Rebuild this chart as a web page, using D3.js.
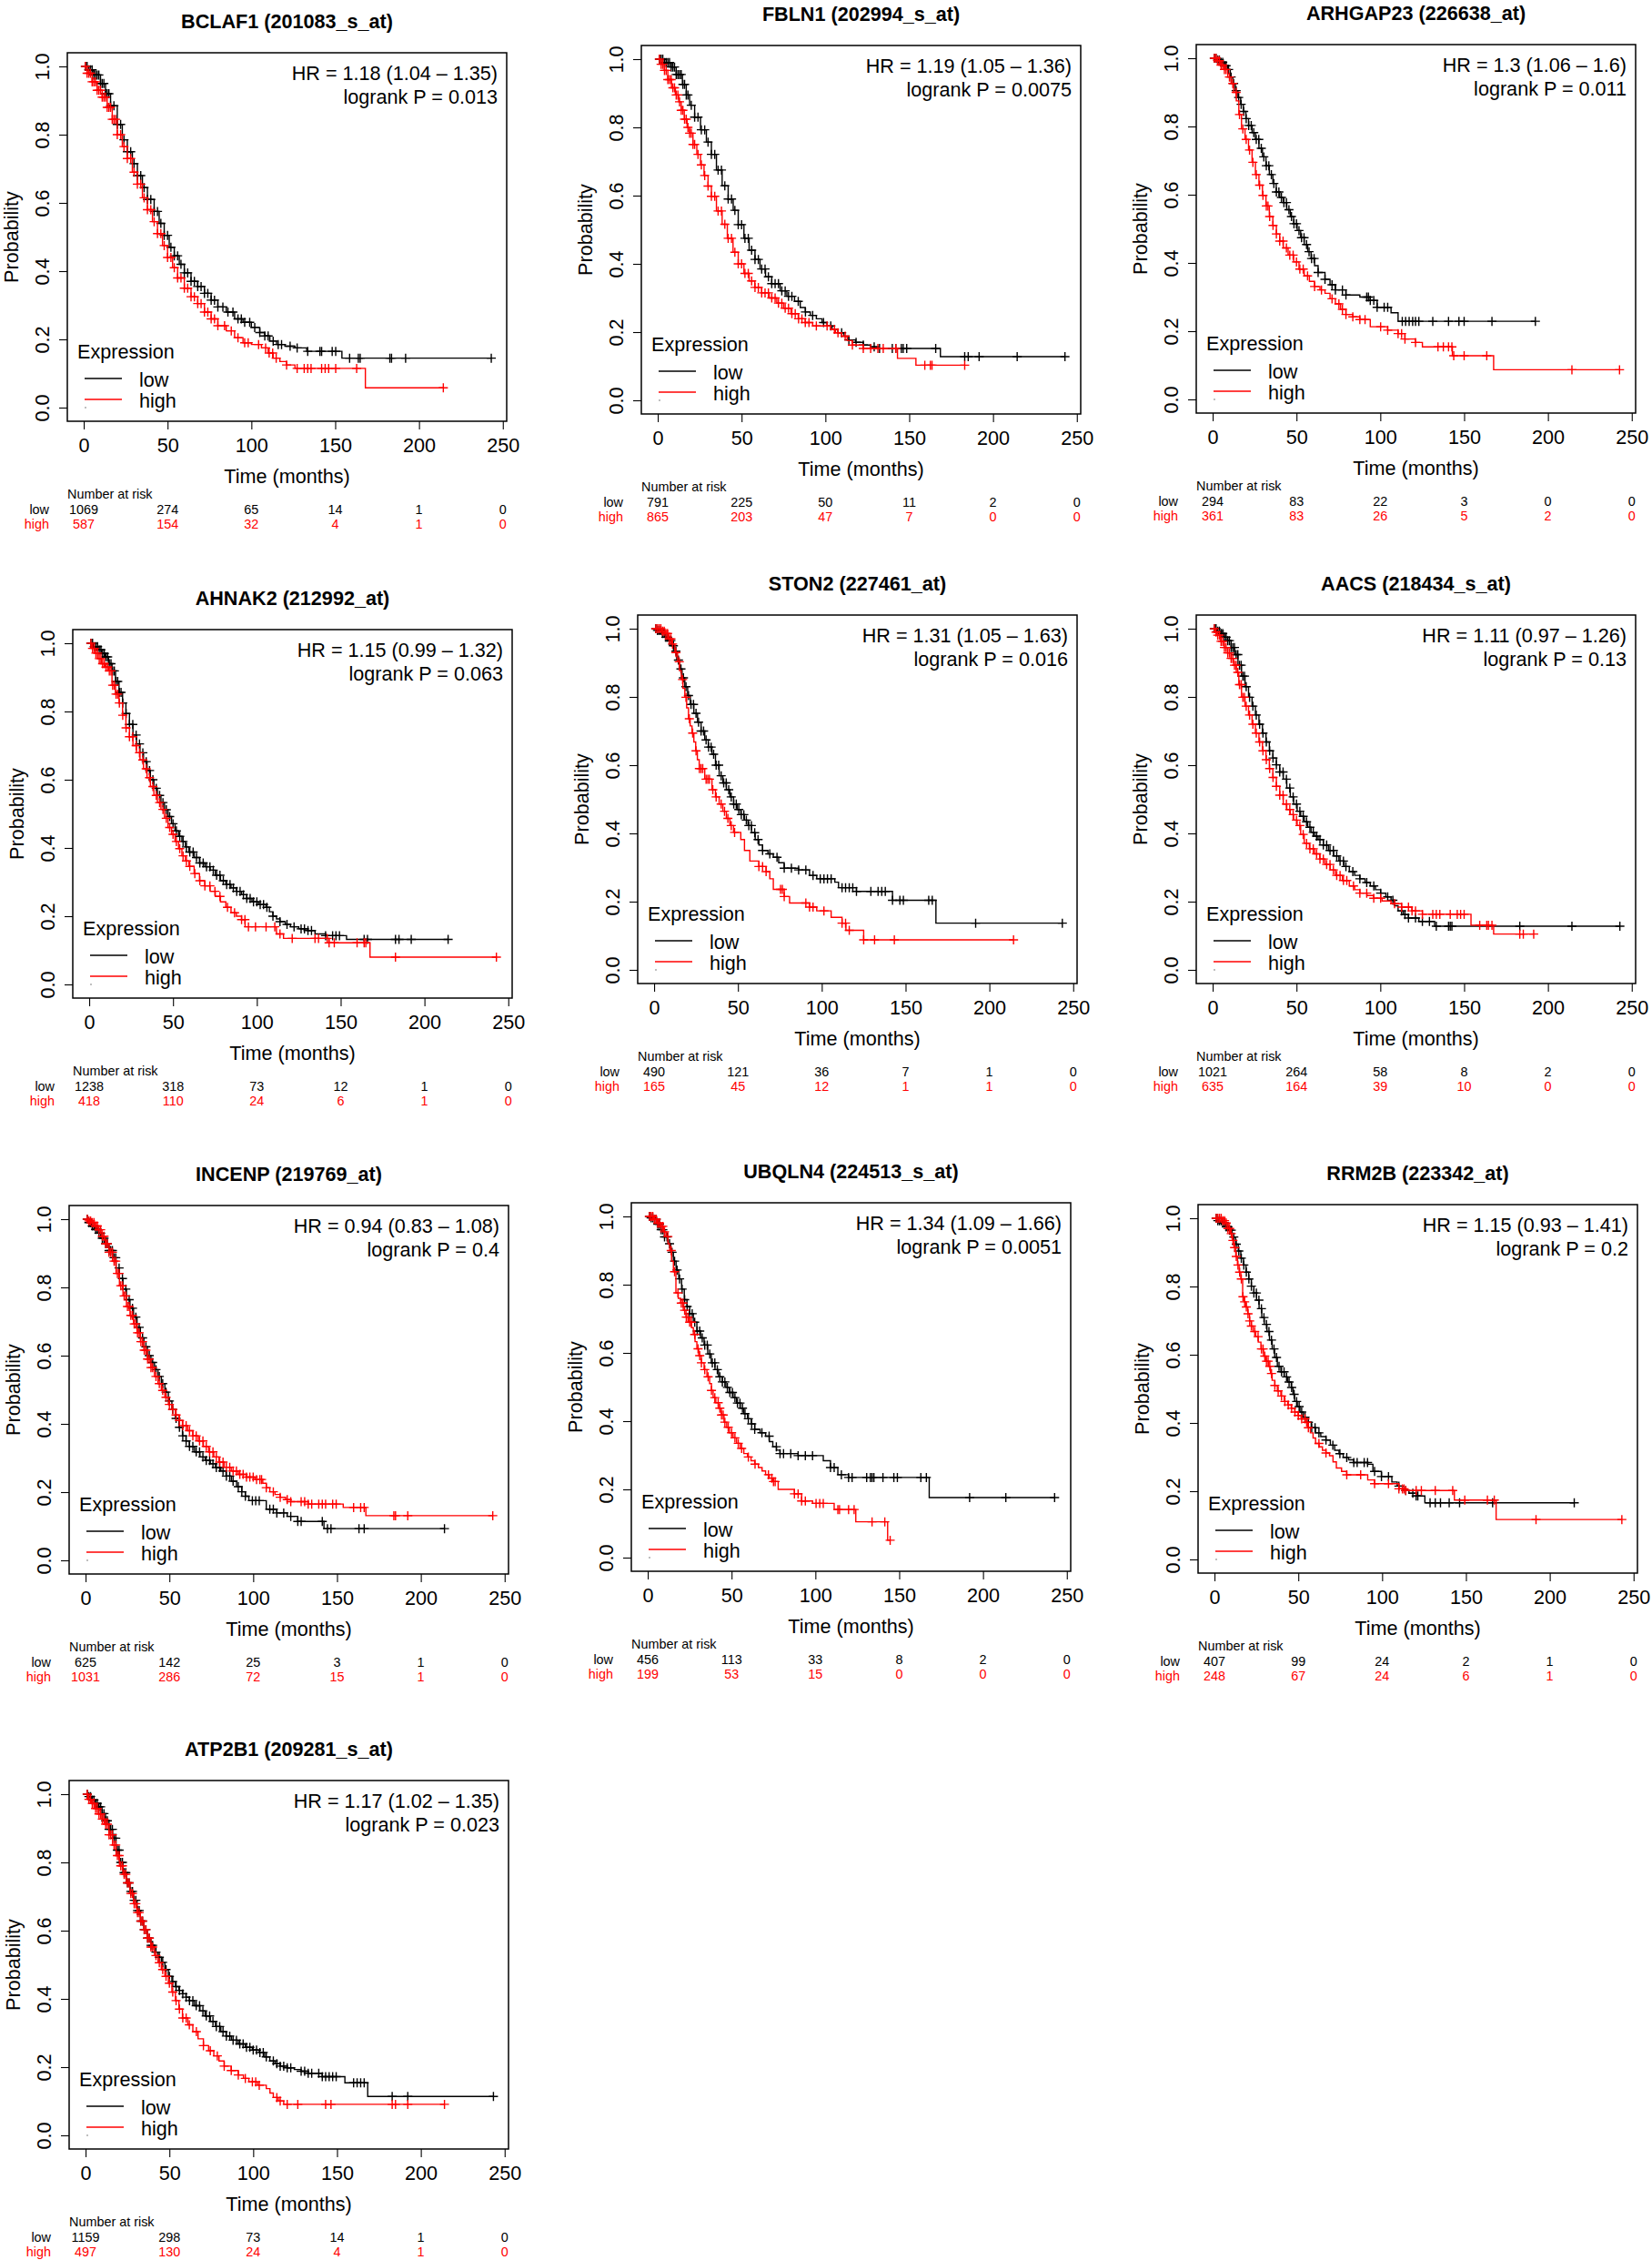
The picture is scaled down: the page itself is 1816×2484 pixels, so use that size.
<!DOCTYPE html>
<html><head><meta charset="utf-8">
<script src="https://cdn.jsdelivr.net/npm/d3@7"></script>
<style>
body{margin:0;background:#fff}
svg{display:block}
text{font-family:"Liberation Sans",Arial,Helvetica,sans-serif;fill:#000}
</style>
</head><body>
<svg id="chart" width="1816" height="2484"></svg>
<script>
// ---------- shared tick labels ----------
const xTickValues = [0, 50, 100, 150, 200, 250];
const yTickValues = [0, 0.2, 0.4, 0.6, 0.8, 1.0];
const groups = ["low", "high"];

// ---------- titles / statistics ----------
const titles = ["BCLAF1 (201083_s_at)", "FBLN1 (202994_s_at)", "ARHGAP23 (226638_at)",
  "AHNAK2 (212992_at)", "STON2 (227461_at)", "AACS (218434_s_at)",
  "INCENP (219769_at)", "UBQLN4 (224513_s_at)", "RRM2B (223342_at)", "ATP2B1 (209281_s_at)"];
const hrTexts = ["HR = 1.18 (1.04 – 1.35)", "HR = 1.19 (1.05 – 1.36)", "HR = 1.3 (1.06 – 1.6)",
  "HR = 1.15 (0.99 – 1.32)", "HR = 1.31 (1.05 – 1.63)", "HR = 1.11 (0.97 – 1.26)",
  "HR = 0.94 (0.83 – 1.08)", "HR = 1.34 (1.09 – 1.66)", "HR = 1.15 (0.93 – 1.41)", "HR = 1.17 (1.02 – 1.35)"];
const pTexts = ["logrank P = 0.013", "logrank P = 0.0075", "logrank P = 0.011",
  "logrank P = 0.063", "logrank P = 0.016", "logrank P = 0.13",
  "logrank P = 0.4", "logrank P = 0.0051", "logrank P = 0.2", "logrank P = 0.023"];

// ---------- number at risk ----------
const riskLow = [[1069,274,65,14,1,0],[791,225,50,11,2,0],[294,83,22,3,0,0],[1238,318,73,12,1,0],[490,121,36,7,1,0],
  [1021,264,58,8,2,0],[625,142,25,3,1,0],[456,113,33,8,2,0],[407,99,24,2,1,0],[1159,298,73,14,1,0]];
const riskHigh = [[587,154,32,4,1,0],[865,203,47,7,0,0],[361,83,26,5,2,0],[418,110,24,6,1,0],[165,45,12,1,1,0],
  [635,164,39,10,0,0],[1031,286,72,15,1,0],[199,53,15,0,0,0],[248,67,24,6,1,0],[497,130,24,4,1,0]];

// ---------- survival steps [months, probability] and censor times ----------
const bclaf1Low = [[0,1],[3,0.99],[6,0.975],[10,0.95],[13,0.92],[16,0.885],[20,0.83],[23,0.785],[26,0.75],[29,0.715],[32,0.68],[35,0.645],[38,0.61],[42,0.575],[45,0.54],[48,0.505],[51,0.47],[54,0.445],[57,0.42],[60,0.395],[64,0.37],[68,0.355],[72,0.335],[76,0.315],[80,0.295],[85,0.28],[90,0.26],[95,0.25],[100,0.235],[105,0.22],[108,0.21],[111,0.195],[115,0.185],[120,0.18],[126,0.175],[133,0.165],[154,0.145]];
const bclaf1LowCens = [1,2,3,4,5,6,7,8,9,10,11,12,13,14,15,16,18,20,22,24,26,28,30,32,34,36,38,40,42,44,46,48,50,52,54,56,58,60,62,64,66,68,70,72,74,76,78,80,83,86,89,92,94,96,99,102,105,108,110,113,116,118,123.1,127.3,133.6,140.9,141.9,148.2,150.3,158.6,163.8,164.9,182.6,183.6,192,243.1];
const bclaf1High = [[0,1],[2,0.98],[5,0.955],[8,0.93],[11,0.91],[14,0.88],[17,0.845],[20,0.8],[23,0.765],[26,0.73],[29,0.69],[32,0.655],[35,0.615],[38,0.58],[41,0.545],[44,0.51],[47,0.475],[50,0.44],[53,0.41],[56,0.38],[60,0.35],[64,0.325],[68,0.305],[72,0.28],[76,0.26],[80,0.24],[85,0.225],[90,0.205],[95,0.19],[100,0.185],[106,0.175],[110,0.16],[113,0.145],[117,0.135],[121,0.125],[126,0.115],[168,0.058]];
const bclaf1HighCens = [1,2,3,4,5,6,7,8,9,10,11,12,13,14,15,16,17,18,19,20,22,24,26,28,30,32,34,36,38,40,42,44,46,48,50,52,54,56,58,60,62,64,66,68,70,72,74,76,78,80,84,88,92,96,98.1,104.3,108.5,110.6,112.7,114.8,121,127.3,131.5,133.6,135.6,141.9,144,146.1,150.3,162.8,214.5];

const fbln1Low = [[0,1],[4,0.99],[8,0.977],[11,0.955],[14.7,0.926],[17,0.895],[19,0.865],[22,0.83],[25.5,0.793],[29,0.757],[32,0.721],[35,0.675],[38.4,0.629],[42,0.59],[45,0.557],[48,0.515],[51.4,0.475],[54.5,0.44],[58,0.413],[61,0.385],[64.3,0.362],[68,0.342],[73,0.321],[77,0.305],[81.6,0.29],[85,0.272],[88,0.259],[91,0.249],[94.6,0.239],[98,0.228],[101,0.218],[104,0.208],[107.5,0.198],[111,0.188],[114,0.177],[118,0.17],[122.6,0.162],[127,0.157],[131.3,0.152],[168.6,0.128]];
const fbln1LowCens = [1,2,3,4,5,6,7,8,9,10,11,12,13,14,15,16,17,18,20,22,24,26,28,30,32,34,36,38,40,42,44,46,48,50,52,54,56,58,60,62,64,66,68,70,72,74,76,78,80,83.8,88.1,92.4,98.9,103.2,109.7,114,118.3,122.6,129.1,132.3,139.9,142,145.3,146.4,148.5,165.8,183.1,185.2,191.7,214.4,242.9];
const fbln1High = [[0,1],[2,0.985],[3.9,0.967],[6,0.94],[8.2,0.916],[10.5,0.895],[12.5,0.875],[14,0.85],[15.8,0.824],[17.5,0.8],[19,0.783],[21,0.75],[23.3,0.721],[25.5,0.69],[27.6,0.659],[30,0.628],[32,0.598],[35,0.555],[38.4,0.516],[41.5,0.475],[44.9,0.434],[48,0.4],[51.4,0.372],[54.5,0.35],[57.9,0.331],[62,0.315],[66.5,0.3],[71,0.285],[75.1,0.27],[79.5,0.254],[83.8,0.239],[88,0.228],[92.4,0.218],[103.2,0.208],[106,0.198],[109.7,0.188],[113,0.175],[116.1,0.162],[122.6,0.152],[143,0.123],[154,0.103]];
const fbln1HighCens = [1,2,3,4,5,6,7,8,9,10,11,12,13,14,15,16,17,18,19,20,21,22,24,26,28,30,32,34,36,38,40,42,44,46,48,50,52,54,56,58,60,62,64,66,68,70,72,74,76,78,80,82,84,86,88,90.2,94.6,101,105.4,107.5,111.8,116.1,122.6,127,131.3,134.5,142,159.3,162.6,163.6,183.1];

const arhgap23Low = [[0,1],[2.5,0.995],[4.8,0.988],[7,0.978],[8.9,0.967],[10.5,0.945],[12,0.926],[13.5,0.905],[15.1,0.885],[16.7,0.865],[18.3,0.844],[19.8,0.823],[21.4,0.803],[23.5,0.782],[25.5,0.762],[27.6,0.736],[29.7,0.711],[31.8,0.685],[33.8,0.659],[35.9,0.633],[37.9,0.608],[40,0.592],[42.1,0.577],[44.2,0.556],[46.3,0.536],[48.3,0.515],[50.4,0.495],[52.5,0.474],[54.6,0.454],[56.7,0.433],[58.7,0.413],[60.8,0.392],[62.9,0.372],[67,0.352],[70,0.336],[73.2,0.321],[79.5,0.306],[87.8,0.3],[94,0.29],[98.1,0.27],[106.4,0.254],[110.6,0.229]];
const arhgap23LowCens = [1,2,3,4,5,6,7,8,9.5,11,12.5,14,15.5,17,18.5,20,21.5,23,24.5,26,27.5,29,30.5,32,33.5,35,36.5,38,39.5,41,42.5,44,45.5,47,48.5,50,51.5,53,54.5,56,57.5,59,60.5,62.9,67,71.2,73.2,77.4,79.5,91.9,92.9,94,96.1,98.1,102.3,104.4,113.1,115.1,117.2,119.3,121,123,131.3,140.7,146.9,150,166.6,192.5];
const arhgap23High = [[0,1],[2.7,0.993],[4.8,0.98],[6.8,0.967],[9,0.945],[11,0.926],[12.5,0.9],[14.1,0.875],[15.6,0.835],[17.2,0.793],[19.3,0.762],[21.4,0.731],[23.5,0.695],[25.5,0.659],[27.6,0.628],[29.7,0.598],[31.8,0.567],[33.8,0.536],[35.9,0.51],[38,0.485],[40,0.464],[42.1,0.444],[45,0.423],[48.3,0.403],[51.5,0.382],[54.6,0.362],[57.7,0.346],[60.8,0.331],[64,0.321],[67,0.311],[70,0.295],[73.2,0.28],[76.3,0.264],[79.5,0.249],[83.6,0.242],[87.8,0.234],[94,0.213],[104.4,0.203],[110.6,0.193],[114.7,0.177],[121,0.167],[125.1,0.154],[143,0.128],[167.6,0.087]];
const arhgap23HighCens = [1,2,3,4,5,6,7,8,10,12,14,16,18,20,22,24,26,28,30,32,33,34,36,38,40,42,44,46,48,50,52,54,56.6,60.8,64.9,71.2,75.3,77.4,79.5,83.6,87.8,90.9,100.2,104.4,110.6,112.7,114.7,121,134.4,137.6,140.7,142.7,143.8,150,163.5,214.3,242.7];

const ahnak2Low = [[0,1],[2.5,0.99],[5.2,0.981],[7.3,0.97],[9.4,0.96],[11.5,0.94],[13.6,0.919],[15.7,0.888],[17.8,0.856],[19.9,0.825],[21.9,0.794],[24,0.762],[26.1,0.731],[28.2,0.705],[30.3,0.679],[32.4,0.653],[34.5,0.627],[36.5,0.6],[38.6,0.575],[40.7,0.554],[42.8,0.533],[44.9,0.512],[47,0.492],[49.1,0.471],[51.2,0.45],[53.3,0.434],[55.3,0.419],[57.4,0.403],[59.5,0.388],[62.6,0.372],[65.8,0.356],[69,0.345],[72.1,0.335],[75.2,0.32],[78.3,0.304],[81.5,0.293],[84.6,0.283],[87.8,0.273],[90.9,0.263],[94,0.252],[97.1,0.242],[101,0.234],[105.5,0.226],[107.5,0.213],[109.6,0.2],[111.7,0.192],[113.8,0.184],[117,0.176],[120.1,0.169],[125,0.163],[130.5,0.158],[134.7,0.148],[141,0.143],[153.5,0.132]];
const ahnak2LowCens = [1,2,3,4,5,6,7,8,9,10,11,12,13,14,15,16,17,18,19,20,22,24,26,28,30,32,34,36,38,40,42,44,46,48,50,52,54,56,58,60,62,64,66,68,70,72,74,76,78,80,82,84,86,88,90,92,94,96,98,100,102,104,106,109.6,113.8,118,122.2,126.4,128.4,130.5,132.6,141,145.2,147.2,149.3,164,166,182.7,184.8,192.1,214.1];
const ahnak2High = [[0,1],[1.5,0.985],[3.1,0.971],[5.2,0.955],[7.3,0.94],[9.4,0.93],[11.5,0.919],[13.6,0.877],[15.7,0.851],[17.8,0.825],[19.9,0.789],[21.9,0.752],[24,0.726],[26.1,0.7],[28.2,0.679],[30.3,0.658],[32.4,0.632],[34.5,0.606],[36.5,0.58],[38.6,0.554],[40.7,0.533],[42.8,0.513],[44.9,0.487],[47,0.46],[49.1,0.44],[51.2,0.419],[53.3,0.398],[55.3,0.377],[57.4,0.362],[59.5,0.346],[62.6,0.325],[65.8,0.304],[69,0.289],[72.1,0.273],[75.2,0.258],[78.3,0.242],[81.5,0.226],[84.6,0.21],[87.8,0.2],[90.9,0.19],[93,0.169],[111.7,0.148],[115.9,0.135],[143,0.122],[167.5,0.08]];
const ahnak2HighCens = [1,2,3,4,5,6,7,8,9,10,11,12,13,14,15,16,17,18,20,22,24,26,28,30,32,34,36,38,40,42,44,46,48,50,52,54,56,58,60,63,66,69,72,75,78,82.5,86.7,90.9,92.9,95,99.2,105.5,110.7,113.8,121.1,134.7,136.8,142,143.1,146.2,159.8,164,165,182.7,242.9];

const ston2Low = [[0,1],[2,0.995],[4.3,0.986],[6.5,0.975],[8.6,0.965],[10.3,0.95],[11.9,0.934],[13.5,0.908],[15.1,0.882],[16.7,0.856],[18.3,0.83],[20,0.804],[21.6,0.778],[23.7,0.752],[25.9,0.726],[28,0.7],[30.2,0.674],[32.3,0.653],[34.5,0.632],[36.6,0.6],[38.8,0.569],[41,0.548],[43.1,0.528],[45.2,0.507],[47.4,0.486],[49.5,0.47],[51.7,0.455],[53.8,0.439],[56,0.423],[58.1,0.402],[60.3,0.382],[62.5,0.366],[64.7,0.35],[67.9,0.34],[71.1,0.33],[74.3,0.314],[77.6,0.298],[86.2,0.293],[92.7,0.277],[97,0.267],[107.8,0.257],[110,0.241],[120.7,0.23],[142.2,0.204],[168.1,0.137]];
const ston2LowCens = [1,2,3,4,5,6,7,8,9,10,11.5,13,14.5,16,17.5,19,20.5,22,23.5,25,26.5,28,29.5,31,32.5,34,35.5,37,38.5,40,41.5,43,44.5,46,47.5,49,50.5,52,53.5,55,56.5,58,60,62,64.7,69,73.3,77.6,81.9,86.2,90.5,94.8,99.1,101.3,103.4,105.6,112.1,114.2,116.4,118.5,120.7,129.3,133.6,135.8,137.9,142.2,146.6,148.7,163.8,165.9,191.8,243.5];
const ston2High = [[0,1],[4.3,0.993],[6.5,0.986],[8.6,0.97],[10.8,0.955],[12.4,0.93],[14,0.903],[15.1,0.877],[16.2,0.851],[17.2,0.825],[18.3,0.799],[19.4,0.768],[20.5,0.736],[21.5,0.715],[22.6,0.694],[23.7,0.668],[24.8,0.642],[25.8,0.616],[26.9,0.59],[30.2,0.559],[34.5,0.528],[36.6,0.507],[38.8,0.486],[41,0.465],[43.1,0.444],[45.2,0.423],[47.4,0.403],[51.7,0.382],[53.9,0.35],[57.1,0.319],[62.5,0.303],[66.8,0.288],[69,0.267],[71.1,0.236],[77.6,0.215],[80.8,0.196],[92.7,0.184],[97,0.173],[105.6,0.154],[112.1,0.137],[114.4,0.116],[125,0.088]];
const ston2HighCens = [1,2,3,4,5,6,7,8,9,10,11,13,15,17,19,21,23,25,27,28,29,31,32,33,35,37,40,42,44,46,48,62.5,64.7,66.8,75.4,76.5,77.6,90.5,92.7,94.8,101.3,112.1,114.2,116.4,125,131.5,143.3,214.4];

const aacsLow = [[0,1],[2.5,0.993],[4.8,0.986],[6.9,0.975],[8.9,0.965],[11,0.945],[13.1,0.924],[15.1,0.893],[17.2,0.861],[19.3,0.83],[21.4,0.799],[23.5,0.773],[25.5,0.747],[27.6,0.72],[29.7,0.694],[31.8,0.668],[33.8,0.642],[35.9,0.621],[38,0.601],[40,0.58],[42.1,0.559],[44.2,0.533],[46.3,0.507],[48.3,0.486],[50.4,0.465],[52.5,0.45],[54.6,0.434],[56.7,0.418],[58.7,0.403],[60.8,0.392],[62.9,0.382],[66,0.366],[69.1,0.35],[72.2,0.334],[75.3,0.319],[78.4,0.303],[81.5,0.288],[84.7,0.277],[87.8,0.267],[90.9,0.256],[94,0.246],[97.1,0.235],[100.2,0.225],[103.3,0.214],[106.4,0.204],[108.5,0.188],[110.6,0.173],[113.7,0.162],[116.8,0.152],[123,0.142],[132.4,0.128]];
const aacsLowCens = [1,2,3,4,5,6,7,8,9,10,11,12,13,14,15,16,17,18,19,20,22,24,26,28,30,32,34,36,38,40,42,44,46,48,50,52,54,56,58,60,62,64,66,68,70,72,74,76,78,79.5,83.6,87.8,91.9,96.1,100.2,104.4,107.5,112.7,114.7,116.8,121,125.1,129.3,133.4,140.7,141.7,142.7,183.2,214.3,242.9];
const aacsHigh = [[0,1],[1.5,0.99],[2.7,0.981],[4.8,0.963],[6.8,0.945],[8.9,0.929],[11,0.913],[12.5,0.893],[14.1,0.872],[15.6,0.836],[17.2,0.799],[19.3,0.773],[21.4,0.747],[23.5,0.72],[25.5,0.694],[27.6,0.668],[29.7,0.642],[31.8,0.616],[33.8,0.59],[35.9,0.564],[38,0.538],[40,0.512],[42.1,0.486],[44.2,0.47],[46.3,0.455],[48.3,0.439],[50.4,0.423],[52.5,0.397],[54.6,0.371],[57.7,0.355],[60.8,0.34],[63.9,0.325],[67,0.309],[70.1,0.293],[73.2,0.277],[77.4,0.262],[81.5,0.246],[84.7,0.235],[87.8,0.225],[92,0.218],[96.1,0.21],[101,0.202],[106.4,0.194],[112.7,0.184],[118.9,0.173],[125.1,0.163],[154.1,0.131],[167.6,0.105]];
const aacsHighCens = [1,2,3,4,5,6,7,8,9,10,11,12,13,14,15,16,17,18,19,20,22,24,26,28,30,32,34,36,38,40,42,44,46,48,50,52,54,56,58,60,62,64,66,68,70,72,74,76,78,80,84,87.8,91.9,96.1,100.2,108.5,112.7,116.8,118.9,121,125.1,131.3,133.4,135.5,141.7,145.9,147.9,150,159.3,163.5,164.5,166.6,183.2,185.3,191.5];

const incenpLow = [[0,1],[1.5,0.99],[3.5,0.98],[5.6,0.97],[7.7,0.959],[9.8,0.944],[11.9,0.928],[14,0.908],[16.1,0.887],[18.2,0.857],[20.2,0.826],[22.3,0.795],[24.4,0.764],[26.5,0.739],[28.6,0.713],[30.7,0.683],[32.7,0.652],[34.8,0.626],[36.9,0.6],[39,0.58],[41.1,0.559],[43.2,0.539],[45.2,0.518],[47.3,0.493],[49.4,0.467],[51.5,0.442],[53.6,0.416],[55.7,0.39],[57.8,0.365],[59.9,0.35],[61.9,0.334],[65,0.318],[68.2,0.303],[71.3,0.293],[74.4,0.283],[77.5,0.272],[80.7,0.262],[83.8,0.247],[87,0.232],[90.1,0.216],[93.2,0.201],[95.3,0.188],[97.4,0.175],[107.8,0.15],[114.1,0.139],[120.3,0.129],[126.6,0.114],[142.2,0.093]];
const incenpLowCens = [1,2,3,4,5,6,7,8,9,10,11,12,13,14,15,16,17,18,20,22,24,26,28,30,32,34,36,38,40,42,44,46,48,50,52,54,56,58,60,62,64,66,68,70,72,74,76,78,80,82,84,86,88,91.1,93.2,95.3,99.5,101.5,103.6,109.9,112,114.1,118.2,122.4,126.6,128.6,141.2,144.3,146.4,163.1,166.2,214.1];
const incenpHigh = [[0,1],[1.5,0.995],[3.5,0.99],[5.6,0.98],[7.7,0.969],[9.8,0.95],[11.9,0.928],[14,0.903],[16.1,0.877],[18.2,0.841],[20.2,0.805],[22.3,0.775],[24.4,0.744],[26.5,0.718],[28.6,0.693],[30.7,0.667],[32.7,0.641],[34.8,0.616],[36.9,0.59],[39,0.565],[41.1,0.539],[43.2,0.518],[45.2,0.498],[47.3,0.478],[49.4,0.457],[51.5,0.442],[53.6,0.426],[55.7,0.41],[57.8,0.395],[60.9,0.38],[64,0.365],[67.2,0.35],[70.3,0.334],[73.4,0.318],[76.5,0.303],[79.6,0.288],[82.7,0.273],[86.9,0.262],[91.1,0.252],[96,0.244],[101,0.237],[105.7,0.226],[107.8,0.213],[109.9,0.201],[113,0.193],[116.1,0.185],[119.3,0.178],[122.4,0.172],[132.8,0.165],[153.7,0.155],[167.2,0.131]];
const incenpHighCens = [1,2,3,4,5,6,7,8,9,10,11,12,13,14,15,16,17,18,19,20,21,22,23,24,25,26,27,28,29,30,31,32,33,34,35,36,37,38,39,40,42,44,46,48,50,52,54,56,58,60,62,64,66,68,70,72,74,76,78,80,82,84,86,88,90,92,94,96,98,100,102,104,105,107.8,112,116.1,120.3,122.4,128.6,130.7,132.8,134.9,139.1,141.2,143.2,147.4,149.5,159.9,164.1,166.2,183.9,184.9,192.2,242.9];

const ubqln4Low = [[0,1],[1.5,0.996],[3.4,0.992],[5.6,0.977],[7.8,0.961],[10,0.94],[12.1,0.92],[13.7,0.895],[15.3,0.869],[16.9,0.843],[18.5,0.817],[20.2,0.787],[21.8,0.756],[23.4,0.736],[25,0.715],[27.2,0.69],[29.3,0.664],[31.5,0.644],[33.6,0.623],[35.8,0.597],[37.9,0.571],[40.1,0.551],[42.2,0.53],[44.4,0.515],[46.6,0.499],[48.7,0.484],[50.9,0.469],[53,0.453],[55.2,0.438],[57.3,0.422],[59.5,0.407],[61.7,0.392],[63.8,0.376],[67,0.366],[70.3,0.356],[72.5,0.34],[74.6,0.325],[76.8,0.315],[78.9,0.305],[89.7,0.299],[104.7,0.284],[109,0.264],[113.4,0.243],[119.8,0.235],[167.9,0.176]];
const ubqln4LowCens = [1,2,3,4,5,6,7,8,9,10,11.5,13,14.5,16,17.5,19,20.5,22,23.5,25,26.5,28,29.5,31,32.5,34,35.5,37,38.5,40,41.5,43,44.5,46,47.5,49,50.5,52,53.5,55,56.5,58,60,62,63.8,68.1,72.4,76.7,78.9,81,85.3,89.7,94,98.3,109,111.2,115.5,119.8,121.9,130.6,132.8,133.8,134.9,140.3,146.8,148.9,162.9,166.2,192,213.6,242.7];
const ubqln4High = [[0,1],[3.4,0.992],[5.6,0.98],[7.8,0.971],[9.5,0.955],[11,0.941],[12.1,0.92],[13.1,0.9],[14.2,0.869],[15.3,0.838],[16.8,0.776],[18.2,0.76],[19.6,0.746],[21.2,0.725],[22.8,0.705],[24.5,0.69],[26.1,0.674],[27.2,0.654],[28.2,0.633],[29.3,0.612],[30.4,0.592],[32,0.571],[33.6,0.551],[35.3,0.53],[36.9,0.51],[38,0.49],[39,0.469],[40.6,0.454],[42.2,0.438],[43.9,0.418],[45.5,0.397],[47.1,0.382],[48.7,0.366],[50.9,0.351],[53,0.335],[55.2,0.32],[57.3,0.305],[59.5,0.295],[61.6,0.284],[63.8,0.274],[66,0.264],[68.2,0.254],[70.3,0.243],[72.5,0.233],[74.6,0.223],[77.8,0.2],[87.5,0.187],[91.8,0.166],[98.3,0.159],[111.2,0.141],[124.1,0.105],[143.1,0.051]];
const ubqln4HighCens = [1,2,3,4,5,6,7,8,9,10,12,14,16,18,20,21,22,23,24,25,26,28,30,31,32,34,36,38,40,42,43,44,45,46,48,50,52,54,56,60,64,72,74,75,76,87.5,89.7,91.8,94,100.4,102.6,104.7,113.4,114.4,119.8,123.1,133.8,141.4,144.6];

const rrm2bLow = [[0,1],[2,0.993],[4.3,0.986],[6.4,0.975],[8.5,0.965],[10.5,0.945],[12.6,0.924],[14.2,0.904],[15.7,0.883],[17.3,0.863],[18.8,0.842],[20.4,0.822],[22,0.801],[23.5,0.781],[25.1,0.76],[26.6,0.735],[28.2,0.709],[29.7,0.689],[31.3,0.668],[32.8,0.643],[34.4,0.617],[35.9,0.592],[37.5,0.566],[39.6,0.55],[41.6,0.535],[43.7,0.52],[45.8,0.504],[46.8,0.484],[47.8,0.463],[49.4,0.448],[51,0.432],[53,0.417],[55.1,0.402],[57.7,0.386],[60.3,0.371],[63.4,0.36],[66.5,0.35],[69.1,0.335],[71.7,0.32],[74.3,0.31],[76.8,0.299],[80,0.292],[83.1,0.284],[91.4,0.279],[94.5,0.258],[99.6,0.243],[105.8,0.227],[109,0.215],[112.1,0.202],[116,0.194],[120.3,0.186],[125.5,0.166]];
const rrm2bLowCens = [1,2,3,4,5,6,7,8,9,10,11.5,13,14.5,16,17.5,19,20.5,22,23.5,25,26.5,28,29.5,31,32.5,34,35.5,37,38.5,40,41.5,43,44.5,46,47.5,49,50.5,52,54,56,58,60,62.3,66.5,70.6,74.8,78.9,83.1,85.1,89.3,91.3,95.5,99.6,103.8,110,114.1,118.3,120.3,121.3,128.6,131.7,134.8,140,146.2,165.9,214.6];
const rrm2bHigh = [[0,1],[4.4,0.993],[6.4,0.986],[8,0.97],[9.5,0.955],[10.6,0.935],[11.6,0.914],[12.7,0.888],[13.7,0.863],[14.7,0.842],[15.7,0.822],[16.8,0.77],[17.8,0.755],[18.8,0.74],[19.9,0.72],[20.9,0.699],[22,0.684],[23,0.668],[24.6,0.653],[26.1,0.637],[27.7,0.617],[29.2,0.596],[30.8,0.581],[32.3,0.566],[33.4,0.545],[34.4,0.525],[36,0.51],[37.5,0.494],[39.6,0.479],[41.6,0.463],[43.7,0.453],[45.8,0.443],[47.9,0.432],[49.9,0.422],[52,0.412],[54.1,0.402],[55.7,0.386],[57.2,0.371],[58.8,0.356],[60.3,0.34],[62.4,0.33],[64.4,0.32],[66.5,0.312],[68.6,0.304],[70.7,0.286],[72.7,0.268],[75.8,0.258],[78.9,0.248],[91.4,0.233],[95.5,0.222],[110,0.207],[114.1,0.202],[143.1,0.174],[168,0.117]];
const rrm2bHighCens = [1,2,3,4,5,6,7,8,9,10,11,12,13,14,15,16,17,18,19,20,21,22,24,26,28,29,30,31,32,33,34,36,38,40,42,44,46,48,50,52,54,55,56,62.3,66.5,78.9,87.2,95.5,103.8,110,112.1,113.1,114.1,120.3,123.4,131.7,142.1,149.3,162.8,166.9,191.8,243];

const atp2b1Low = [[0,1],[1.5,0.993],[3.5,0.983],[5.6,0.973],[7.7,0.963],[9.8,0.943],[11.9,0.922],[14,0.897],[16.1,0.871],[18.2,0.836],[20.2,0.8],[22.3,0.77],[24.4,0.74],[26.5,0.715],[28.6,0.689],[30.7,0.659],[32.7,0.628],[34.8,0.603],[36.9,0.578],[39,0.557],[41.1,0.537],[43.2,0.522],[45.2,0.507],[47.3,0.486],[49.4,0.466],[51.5,0.451],[53.6,0.436],[55.7,0.425],[57.8,0.415],[59.9,0.405],[61.9,0.395],[65,0.38],[68.2,0.365],[71.3,0.35],[74.4,0.334],[77.5,0.319],[80.7,0.304],[83.8,0.291],[87,0.279],[91.1,0.268],[95.3,0.258],[99.5,0.25],[103.6,0.243],[106.8,0.23],[109.9,0.218],[113,0.21],[116.1,0.203],[120.3,0.198],[124.5,0.193],[128.6,0.188],[132.8,0.182],[141.2,0.172],[154.7,0.154],[168.3,0.114]];
const atp2b1LowCens = [1,2,3,4,5,6,7,8,9,10,11,12,13,14,15,16,17,18,19,20,21,22,23,24,25,26,27,28,29,30,31,32,33,34,35,36,37,38,39,40,42,44,46,48,50,52,54,56,58,60,62,64,66,68,70,72,74,76,78,80,82,84,86,88,90,92,94,96,98,100,102,104,106,107.8,112,114.1,116.1,118.2,120.3,122.4,128.6,130.7,132.8,134.9,139.1,141.2,143.2,145.3,147.4,149.5,159.9,162,164.1,166.2,182.9,192.2,243.3];
const atp2b1High = [[0,1],[1.5,0.985],[3.5,0.973],[5.6,0.958],[7.7,0.942],[9.8,0.927],[11.9,0.912],[14,0.881],[16.1,0.851],[18.2,0.82],[20.2,0.79],[22.3,0.765],[24.4,0.74],[26.5,0.709],[28.6,0.679],[30.7,0.653],[32.7,0.628],[34.8,0.603],[36.9,0.578],[39,0.552],[41.1,0.527],[43.2,0.506],[45.2,0.486],[47.3,0.466],[49.4,0.446],[51.5,0.42],[53.6,0.395],[55.7,0.37],[57.8,0.344],[61,0.324],[64,0.304],[67.1,0.283],[70.3,0.263],[73.4,0.248],[76.5,0.233],[79.6,0.218],[82.7,0.203],[86.9,0.19],[91.1,0.177],[94.2,0.167],[97.4,0.157],[102.6,0.147],[107.8,0.137],[110,0.124],[112,0.111],[115,0.101],[118.2,0.091]];
const atp2b1HighCens = [1,2,3,4,5,6,7,8,9,10,11,12,13,14,15,16,17,18,19,20,21,22,23,24,25,26,27,28,29,30,31,32,33,34,35,36,37,38,39,40,42,44,46,48,50,52,54,56,58,60,61.9,66.1,70.3,74.4,78.6,82.7,86.9,91.1,95.3,99.5,101.5,103.6,114.1,116.1,120.3,126.6,143.2,146.4,182.9,184.9,192.2,214.1];

// ---------- layout (top-left corner of each plot box) ----------
const boxOrigins = [[74,58],[705,50],[1315,49],[80,692],[701,676],[1315,676],[76,1325],[694,1322],[1317,1324],[76,1957]];

const lowSteps = [bclaf1Low, fbln1Low, arhgap23Low, ahnak2Low, ston2Low, aacsLow, incenpLow, ubqln4Low, rrm2bLow, atp2b1Low];
const lowCens = [bclaf1LowCens, fbln1LowCens, arhgap23LowCens, ahnak2LowCens, ston2LowCens, aacsLowCens, incenpLowCens, ubqln4LowCens, rrm2bLowCens, atp2b1LowCens];
const highSteps = [bclaf1High, fbln1High, arhgap23High, ahnak2High, ston2High, aacsHigh, incenpHigh, ubqln4High, rrm2bHigh, atp2b1High];
const highCens = [bclaf1HighCens, fbln1HighCens, arhgap23HighCens, ahnak2HighCens, ston2HighCens, aacsHighCens, incenpHighCens, ubqln4HighCens, rrm2bHighCens, atp2b1HighCens];

const colors = {low: "#000000", high: "#ff0000"};

// ---------- drawing ----------
const W = 483, H = 405, FS = 21.6, FSS = 14.4, LW = 1.4;
const svg = d3.select("#chart");
const x = d3.scaleLinear().domain([-9.8, 252.3]).range([0, W]);
const y = d3.scaleLinear().domain([-0.04, 1.04]).range([H, 0]);
const line = d3.line().x(d => x(d[0])).y(d => y(d[1])).curve(d3.curveStepAfter);

function levelAt(steps, t) {
  let s = steps[0][1];
  for (const p of steps) { if (p[0] <= t) s = p[1]; else break; }
  return s;
}

function drawCurve(g, steps, cens, color) {
  const end = d3.max(cens);
  const pts = steps.concat([[end, steps[steps.length - 1][1]]]);
  g.append("path").attr("d", line(pts)).attr("fill", "none")
    .attr("stroke", color).attr("stroke-width", LW);
  g.append("g").selectAll("path").data(cens).join("path")
    .attr("d", t => {
      const cx = x(t), cy = y(levelAt(steps, t));
      return `M${cx - 5},${cy}h10M${cx},${cy - 5}v10`;
    })
    .attr("stroke", color).attr("stroke-width", LW).attr("fill", "none");
}

titles.forEach((title, i) => {
  const [ox, oy] = boxOrigins[i];
  const g = svg.append("g").attr("transform", `translate(${ox},${oy})`);

  // title
  g.append("text").attr("x", W / 2).attr("y", -35).attr("dy", "0.35em")
    .attr("text-anchor", "middle").attr("font-weight", "bold").attr("font-size", FS).text(title);

  // x axis
  const xa = g.append("g").attr("transform", `translate(0,${H})`)
    .call(d3.axisBottom(x).tickValues(xTickValues).tickSize(9).tickPadding(9.4).tickFormat(d3.format("d")));
  xa.select(".domain").remove();
  xa.selectAll("line").attr("stroke", "#000").attr("stroke-width", 1.1);
  xa.selectAll("text").attr("font-size", FS).attr("font-family", null);

  // y axis
  const ya = g.append("g")
    .call(d3.axisLeft(y).tickValues(yTickValues).tickSize(9).tickFormat(d3.format(".1f")));
  ya.select(".domain").remove();
  ya.selectAll("line").attr("stroke", "#000").attr("stroke-width", 1.1);
  ya.selectAll("text").attr("font-size", FS).attr("font-family", null)
    .attr("transform", "rotate(-90)").attr("x", 0).attr("y", -28).attr("dy", "0.35em")
    .attr("text-anchor", "middle");

  // axis titles
  g.append("text").attr("transform", `translate(-62,${H / 2}) rotate(-90)`).attr("dy", "0.35em")
    .attr("text-anchor", "middle").attr("font-size", FS).text("Probability");
  g.append("text").attr("x", W / 2).attr("y", H + 60).attr("dy", "0.35em")
    .attr("text-anchor", "middle").attr("font-size", FS).text("Time (months)");

  // curves
  drawCurve(g, lowSteps[i], lowCens[i], colors.low);
  drawCurve(g, highSteps[i], highCens[i], colors.high);

  // box
  g.append("rect").attr("width", W).attr("height", H).attr("fill", "none")
    .attr("stroke", "#000").attr("stroke-width", 1.5);

  // HR text
  g.append("text").attr("x", W - 10).attr("y", 22).attr("dy", "0.35em")
    .attr("text-anchor", "end").attr("font-size", FS).text(hrTexts[i]);
  g.append("text").attr("x", W - 10).attr("y", 48).attr("dy", "0.35em")
    .attr("text-anchor", "end").attr("font-size", FS).text(pTexts[i]);

  // legend
  g.append("text").attr("x", 11).attr("y", 328).attr("dy", "0.35em").attr("font-size", FS).text("Expression");
  groups.forEach((grp, k) => {
    const ly = 358 + k * 23;
    g.append("line").attr("x1", 19).attr("x2", 60).attr("y1", ly).attr("y2", ly)
      .attr("stroke", colors[grp]).attr("stroke-width", 1.3);
    g.append("text").attr("x", 79).attr("y", ly + 1).attr("dy", "0.35em").attr("font-size", FS).text(grp);
  });
  g.append("rect").attr("x", 19.5).attr("y", 389.5).attr("width", 1).attr("height", 1).attr("fill", "#000");

  // number at risk
  g.append("text").attr("x", 0).attr("y", H + 79.5).attr("dy", "0.35em").attr("font-size", FSS).text("Number at risk");
  [riskLow[i], riskHigh[i]].forEach((row, k) => {
    const ry = H + 96.5 + k * 16.5;
    const col = colors[groups[k]];
    g.append("text").attr("x", -20).attr("y", ry).attr("dy", "0.35em").attr("text-anchor", "end")
      .attr("font-size", FSS).style("fill", col).text(groups[k]);
    g.append("g").selectAll("text").data(row).join("text")
      .attr("x", (d, j) => x(xTickValues[j])).attr("y", ry).attr("dy", "0.35em")
      .attr("text-anchor", "middle").attr("font-size", FSS).style("fill", col).text(d => d);
  });
});
</script>
</body></html>
